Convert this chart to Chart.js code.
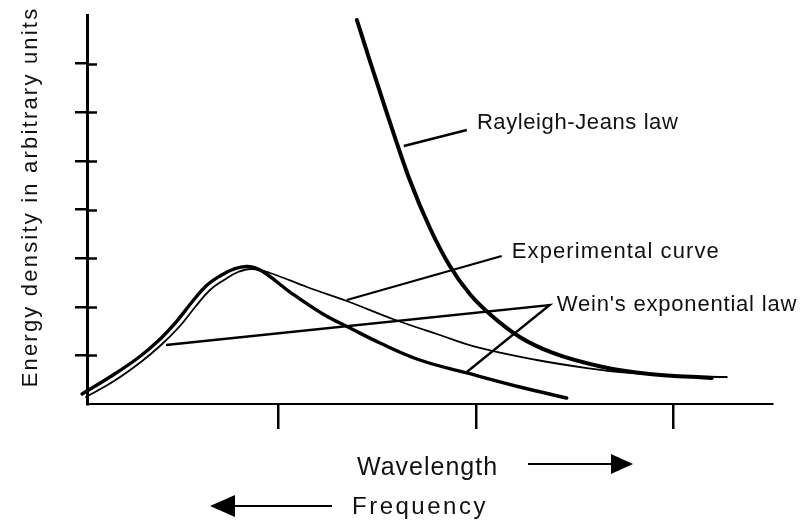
<!DOCTYPE html>
<html>
<head>
<meta charset="utf-8">
<script src="https://cdn.jsdelivr.net/npm/chart.js@4/dist/chart.umd.min.js"></script>
<style>
  html, body { margin: 0; padding: 0; background: #fff; }
  canvas { display: block; }
</style>
</head>
<body>
<canvas id="c" width="806" height="520"></canvas>
<script>
// ---- Data (wavelength in arbitrary units, energy density in arbitrary units) ----
const xTickValues = [1, 2, 3];
const yTickValues = [1, 2, 3, 4, 5, 6, 7];

const rayleighWavelength = [1.397, 1.468, 1.544, 1.665, 1.767, 1.868, 1.969, 2.070, 2.222, 2.390, 2.643, 2.881, 3.195];
const rayleighEnergy     = [7.897, 6.992, 6.046, 4.607, 3.620, 2.838, 2.262, 1.851, 1.378, 1.049, 0.761, 0.617, 0.535];

const weinWavelength = [0.005, 0.146, 0.288, 0.390, 0.481, 0.562, 0.633, 0.703, 0.774, 0.845, 0.916, 1.058, 1.225, 1.362, 1.514, 1.716, 1.954, 2.222, 2.460];
const weinEnergy     = [0.206, 0.555, 0.946, 1.296, 1.686, 2.098, 2.427, 2.632, 2.776, 2.828, 2.735, 2.303, 1.851, 1.563, 1.255, 0.905, 0.638, 0.350, 0.123];

const experimentalWavelength = [0.025, 0.167, 0.303, 0.405, 0.501, 0.582, 0.653, 0.724, 0.795, 0.865, 0.957, 1.144, 1.346, 1.579, 1.817, 2.020, 2.308, 2.562, 2.779, 3.033, 3.271];
const experimentalEnergy     = [0.144, 0.473, 0.864, 1.213, 1.604, 2.015, 2.345, 2.550, 2.715, 2.776, 2.694, 2.406, 2.118, 1.748, 1.419, 1.152, 0.905, 0.740, 0.638, 0.576, 0.555];

// Leader lines for the labels (data units)
const rayleighLeaderX = [1.635, 1.954];
const rayleighLeaderY = [5.306, 5.635];
const experimentalLeaderX = [1.346, 2.131];
const experimentalLeaderY = [2.139, 3.044];
const weinLeaderX = [0.430, 2.374, 1.954];
const weinLeaderY = [1.213, 2.036, 0.658];

const labelTexts = {
  rayleigh: 'Rayleigh-Jeans law',
  experimental: 'Experimental curve',
  wein: "Wein's exponential law",
  yTitle: 'Energy density in arbitrary units',
  wavelength: 'Wavelength',
  frequency: 'Frequency'
};

// ---- helpers ----
const zip = (xs, ys) => xs.map((x, i) => ({ x: x, y: ys[i] }));
const curve = (xs, ys, w, smooth) => Object.assign({
  data: zip(xs, ys), borderColor: '#000', borderWidth: w, pointRadius: 0,
  fill: false, clip: false, borderCapStyle: 'round', borderJoinStyle: 'round'
}, smooth);
const leader = (xs, ys, w) => ({
  data: zip(xs, ys), borderColor: '#000', borderWidth: w, pointRadius: 0,
  fill: false, tension: 0, clip: false, borderCapStyle: 'butt', borderJoinStyle: 'miter'
});

const FONT = '"Liberation Sans", Arial, Helvetica, sans-serif';

const textPlugin = {
  id: 'textPlugin',
  beforeDraw(chart) {
    const ctx = chart.ctx;
    ctx.save();
    ctx.fillStyle = '#fff';
    ctx.fillRect(0, 0, chart.width, chart.height);
    ctx.restore();
  },
  afterDraw(chart) {
    const ctx = chart.ctx;
    const xs = chart.scales.x, ys = chart.scales.y;
    const area = chart.chartArea;
    ctx.save();
    // inner part of the y tick marks (they cross the axis)
    ctx.strokeStyle = '#000';
    ctx.lineWidth = 2.5;
    yTickValues.forEach(v => {
      const py = Math.round(ys.getPixelForValue(v)) + 0.5;
      ctx.beginPath();
      ctx.moveTo(area.left, py);
      ctx.lineTo(area.left + 10, py);
      ctx.stroke();
    });

    ctx.fillStyle = '#111';
    const txt = (str, x, y, size, spacing, align) => {
      ctx.font = size + 'px ' + FONT;
      ctx.letterSpacing = spacing + 'px';
      ctx.textAlign = align || 'left';
      ctx.textBaseline = 'alphabetic';
      ctx.fillText(str, x, y);
    };
    // curve labels, anchored in data units
    txt(labelTexts.rayleigh, xs.getPixelForValue(2.005), ys.getPixelForValue(5.656), 22, 0.6);
    txt(labelTexts.experimental, xs.getPixelForValue(2.182), ys.getPixelForValue(3.003), 22, 1.1);
    txt(labelTexts.wein, xs.getPixelForValue(2.410), ys.getPixelForValue(1.913), 22, 0.8);

    // x-axis captions with arrows
    txt(labelTexts.wavelength, 357, area.bottom + 71, 25, 1);
    txt(labelTexts.frequency, 352, area.bottom + 110, 24, 2.5);

    ctx.fillStyle = '#000';
    ctx.lineWidth = 2;
    // right arrow after "Wavelength"
    ctx.beginPath();
    ctx.moveTo(528, area.bottom + 60);
    ctx.lineTo(614, area.bottom + 60);
    ctx.stroke();
    ctx.beginPath();
    ctx.moveTo(633, area.bottom + 60);
    ctx.lineTo(611, area.bottom + 50);
    ctx.lineTo(611, area.bottom + 70);
    ctx.closePath();
    ctx.fill();
    // left arrow before "Frequency"
    ctx.beginPath();
    ctx.moveTo(232, area.bottom + 102);
    ctx.lineTo(332, area.bottom + 102);
    ctx.stroke();
    ctx.beginPath();
    ctx.moveTo(210, area.bottom + 102);
    ctx.lineTo(235, area.bottom + 91);
    ctx.lineTo(235, area.bottom + 113);
    ctx.closePath();
    ctx.fill();

    // y-axis title (rotated)
    ctx.fillStyle = '#111';
    ctx.translate(37, 197);
    ctx.rotate(-Math.PI / 2);
    txt(labelTexts.yTitle, 0, 0, 22, 2.2, 'center');
    ctx.restore();
  }
};

new Chart(document.getElementById('c'), {
  type: 'line',
  data: {
    datasets: [
      curve(rayleighWavelength, rayleighEnergy, 4, { cubicInterpolationMode: 'monotone' }),
      curve(weinWavelength, weinEnergy, 3.4, { tension: 0.4 }),
      curve(experimentalWavelength, experimentalEnergy, 1.8, { tension: 0.4 }),
      leader(rayleighLeaderX, rayleighLeaderY, 2.4),
      leader(experimentalLeaderX, experimentalLeaderY, 2.3),
      leader(weinLeaderX, weinLeaderY, 2.3)
    ]
  },
  options: {
    responsive: false,
    animation: false,
    devicePixelRatio: 1,
    layout: { padding: { left: 0, top: 15, right: 34, bottom: 0 } },
    plugins: { legend: { display: false }, tooltip: { enabled: false }, title: { display: false } },
    scales: {
      x: {
        type: 'linear', min: 0.03, max: 3.5,
        border: { display: true, color: '#000', width: 2 },
        grid: { display: true, drawOnChartArea: false, drawTicks: true, tickLength: 25, lineWidth: 2.5, color: '#000' },
        ticks: { display: false },
        title: { display: false },
        afterBuildTicks: s => { s.ticks = xTickValues.map(v => ({ value: v })); },
        afterFit: s => { s.height = 116; }
      },
      y: {
        type: 'linear', min: 0, max: 8,
        border: { display: true, color: '#000', width: 3 },
        grid: { display: true, drawOnChartArea: false, drawTicks: true, tickLength: 12, lineWidth: 2.5, color: '#000' },
        ticks: { display: false },
        title: { display: false },
        afterBuildTicks: s => { s.ticks = yTickValues.map(v => ({ value: v })); },
        afterFit: s => { s.width = 87; }
      }
    }
  },
  plugins: [textPlugin]
});
</script>
</body>
</html>
